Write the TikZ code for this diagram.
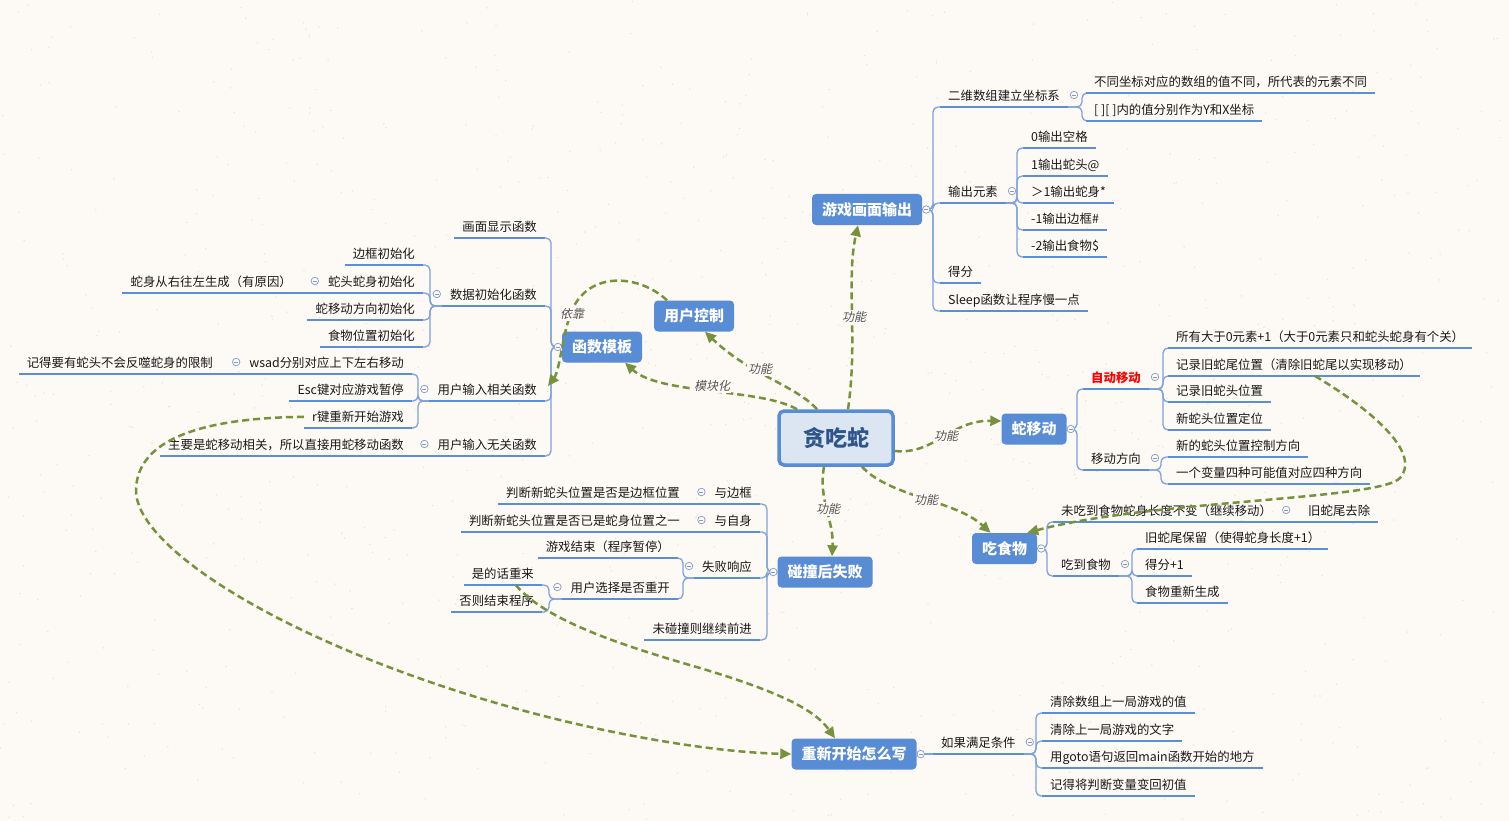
\documentclass[tikz,border=0pt]{standalone}
\usepackage{fontspec}
\setmainfont{Noto Sans CJK SC}
\newfontfamily\slfont[FakeSlant=0.22]{Noto Sans CJK SC}
\usetikzlibrary{arrows.meta}
\definecolor{bg}{RGB}{253,249,245}
\definecolor{speck}{RGB}{246,218,206}
\definecolor{tblue}{RGB}{88,140,212}
\definecolor{ulc}{RGB}{90,142,214}
\definecolor{trkc}{RGB}{125,162,220}
\definecolor{cfill}{RGB}{220,230,243}
\definecolor{ctext}{RGB}{46,84,140}
\definecolor{relc}{RGB}{118,146,60}
\definecolor{lblc}{RGB}{85,85,85}
\definecolor{ccol}{RGB}{130,155,198}
\definecolor{txt}{RGB}{25,25,25}
\newcommand\lfnt{\fontsize{12.4pt}{14pt}\selectfont}
\newcommand\tfnt{\fontsize{15pt}{18pt}\selectfont\bfseries}
\newcommand\cfnt{\fontsize{22pt}{26pt}\selectfont\bfseries}
\newcommand\rfnt{\slfont\fontsize{12pt}{14pt}\selectfont}
\begin{document}
\begin{tikzpicture}[x=1pt,y=-1pt,
  leafR/.style={anchor=south west, inner xsep=8pt, inner ysep=5pt, text height=10.7pt, text depth=1.3pt, font=\lfnt, text=txt},
  leafL/.style={anchor=south east, inner xsep=8pt, inner ysep=5pt, text height=10.7pt, text depth=1.3pt, font=\lfnt, text=txt},
  topic/.style={fill=tblue, rounded corners=4pt, text=white, font=\tfnt, minimum height=31pt, inner xsep=10pt, inner ysep=0pt, text height=12.9pt, text depth=1.5pt},
  centre/.style={fill=cfill, draw=tblue, line width=3.5pt, rounded corners=5pt, text=ctext, font=\cfnt, minimum width=114pt, minimum height=54pt, text height=19pt, text depth=2.2pt},
  ul/.style={draw=ulc, line width=2pt},
  trk/.style={draw=trkc, line width=1.3pt, rounded corners=5pt},
  cc/.style={circle, draw=ccol, fill=bg, minimum size=7.5pt, inner sep=0pt, line width=0.7pt,
    path picture={\draw[ccol, line width=0.7pt] ([xshift=-2pt]path picture bounding box.center) -- ([xshift=2pt]path picture bounding box.center);}},
  rel/.style={draw=relc, line width=2.5pt, dash pattern=on 7pt off 4pt, -{Triangle[length=11pt,width=10pt]}},
  lbl/.style={fill=bg, inner sep=1pt, font=\rfnt, text=lblc}
]
% background
\fill[bg] (0,0) rectangle (1509,821);
\useasboundingbox (0,0) rectangle (1509,821);
\pgfmathsetseed{11}
\foreach \i in {1,...,900} {
  \fill[speck] ({rnd*1509},{rnd*821}) circle (0.75pt);
}

% main topics
\node[centre] (ct) at (836,438) {贪吃蛇};
\node[topic] (gm) at (867,209.5) {游戏画面输出};
\node[topic] (uc) at (694,316) {用户控制};
\node[topic] (hm) at (602,347) {函数模板};
\node[topic] (sm) at (1034,429) {蛇移动};
\node[topic] (cs) at (1004.5,548.5) {吃食物};
\node[topic] (pz) at (825,572) {碰撞后失败};
\node[topic] (rs) at (854,754) {重新开始怎么写};

% right side leaves
\node[leafR] (g1) at (940,107) {二维数组建立坐标系};
\node[leafR] (g11) at (1086,93) {不同坐标对应的数组的值不同，所代表的元素不同};
\node[leafR] (g12) at (1086,121) {[ ][ ]内的值分别作为Y和X坐标};
\node[leafR] (g2) at (940,203) {输出元素};
\node[leafR] (g21) at (1023,148) {0输出空格};
\node[leafR] (g22) at (1023,176) {1输出蛇头@};
\node[leafR] (g23) at (1023,203) {＞1输出蛇身*};
\node[leafR] (g24) at (1023,230) {-1输出边框\#};
\node[leafR] (g25) at (1023,257) {-2输出食物\$};
\node[leafR] (g3) at (940,283) {得分};
\node[leafR] (g4) at (940,311) {Sleep函数让程序慢一点};

\node[leafR, text=red, font=\lfnt\bfseries] (s1) at (1083,389) {自动移动};
\node[leafR] (s11) at (1168,348) {所有大于0元素+1（大于0元素只和蛇头蛇身有个关）};
\node[leafR] (s12) at (1168,376) {记录旧蛇尾位置（清除旧蛇尾以实现移动）};
\node[leafR] (s13) at (1168,402) {记录旧蛇头位置};
\node[leafR] (s14) at (1168,430) {新蛇头位置定位};
\node[leafR] (s2) at (1083,470) {移动方向};
\node[leafR] (s21) at (1168,457) {新的蛇头位置控制方向};
\node[leafR] (s22) at (1168,484) {一个变量四种可能值对应四种方向};

\node[leafR] (c1) at (1053,522) {未吃到食物蛇身长度不变（继续移动）};
\node[leafR] (c11) at (1300,522) {旧蛇尾去除};
\node[leafR] (c2) at (1053,576) {吃到食物};
\node[leafR] (c21) at (1137,549) {旧蛇尾保留（使得蛇身长度+1）};
\node[leafR] (c22) at (1137,576) {得分+1};
\node[leafR] (c23) at (1137,603) {食物重新生成};

\node[leafR] (r1) at (933,754) {如果满足条件};
\node[leafR] (r11) at (1042,713) {清除数组上一局游戏的值};
\node[leafR] (r12) at (1042,741) {清除上一局游戏的文字};
\node[leafR] (r13) at (1042,768) {用goto语句返回main函数开始的地方};
\node[leafR] (r14) at (1042,796) {记得将判断变量变回初值};

% left side leaves
\node[leafL] (p1) at (760,504) {与边框};
\node[leafL] (p11) at (688,504) {判断新蛇头位置是否是边框位置};
\node[leafL] (p2) at (760,532) {与自身};
\node[leafL] (p21) at (688,532) {判断新蛇头位置是否已是蛇身位置之一};
\node[leafL] (p3) at (760,578) {失败响应};
\node[leafL] (p31) at (678,558) {游戏结束（程序暂停）};
\node[leafL] (p32) at (678,599) {用户选择是否重开};
\node[leafL] (p321) at (542,585) {是的话重来};
\node[leafL] (p322) at (542,612) {否则结束程序};
\node[leafL] (p4) at (760,640) {未碰撞则继续前进};

\node[leafL] (h1) at (545,238) {画面显示函数};
\node[leafL] (h2) at (545,306) {数据初始化函数};
\node[leafL] (h21) at (423,265) {边框初始化};
\node[leafL] (h22) at (423,293) {蛇头蛇身初始化};
\node[leafL] (h221) at (300,293) {蛇身从右往左生成（有原因）};
\node[leafL] (h23) at (423,320) {蛇移动方向初始化};
\node[leafL] (h24) at (423,347) {食物位置初始化};
\node[leafL] (h3) at (545,401) {用户输入相关函数};
\node[leafL] (h31) at (412,374) {wsad分别对应上下左右移动};
\node[leafL] (h311) at (221,374) {记得要有蛇头不会反噬蛇身的限制};
\node[leafL] (h32) at (412,401) {Esc键对应游戏暂停};
\node[leafL] (h33) at (412,428) {r键重新开始游戏};
\node[leafL] (h4) at (545,456) {用户输入无关函数};
\node[leafL] (h41) at (412,456) {主要是蛇移动相关，所以直接用蛇移动函数};

% branch connectors, right side
\foreach \a/\c/\s in {gm.east/g1/7pt, gm.east/g2/7pt, gm.east/g3/7pt, gm.east/g4/7pt,
  g1.south east/g11/4pt, g1.south east/g12/4pt,
  g2.south east/g21/6pt, g2.south east/g22/6pt, g2.south east/g23/6pt, g2.south east/g24/6pt, g2.south east/g25/6pt,
  sm.east/s1/6pt, sm.east/s2/6pt,
  s1.south east/s11/5pt, s1.south east/s12/5pt, s1.south east/s13/5pt, s1.south east/s14/5pt,
  s2.south east/s21/7pt, s2.south east/s22/7pt,
  cs.east/c1/6pt, cs.east/c2/6pt,
  c2.south east/c21/5pt, c2.south east/c22/5pt, c2.south east/c23/5pt,
  r1.south east/r11/6pt, r1.south east/r12/6pt, r1.south east/r13/6pt, r1.south east/r14/6pt}
  \draw[trk] (\a) -| ([xshift=-\s]\c.south west) -- (\c.south west);
% branch connectors, left side
\foreach \a/\c/\s in {pz.west/p1/7pt, pz.west/p2/7pt, pz.west/p3/7pt, pz.west/p4/7pt,
  p3.south west/p31/5pt, p3.south west/p32/5pt,
  p32.south west/p321/7pt, p32.south west/p322/7pt,
  hm.west/h1/6pt, hm.west/h2/6pt, hm.west/h3/6pt, hm.west/h4/6pt,
  h2.south west/h21/7pt, h2.south west/h22/7pt, h2.south west/h23/7pt, h2.south west/h24/7pt,
  h3.south west/h31/6pt, h3.south west/h32/6pt, h3.south west/h33/6pt}
  \draw[trk] (\a) -| ([xshift=\s]\c.south east) -- (\c.south east);
% straight single-child connectors
\draw[trk] (rs.east) -- (r1.south west);
\draw[ul] (c1.south east) -- (c11.south west);
\foreach \p/\c in {p1/p11, p2/p21, h22/h221, h31/h311, h4/h41}
  \draw[ul] (\p.south west) -- (\c.south east);

% underlines
\foreach \n in {g1,g11,g12,g2,g21,g22,g23,g24,g25,g3,g4,s1,s11,s12,s13,s14,s2,s21,s22,
  c1,c11,c2,c21,c22,c23,r1,r11,r12,r13,r14,p1,p11,p2,p21,p3,p31,p32,p321,p322,p4,
  h1,h2,h21,h22,h221,h23,h24,h3,h31,h311,h32,h33,h4,h41}
  \draw[ul] (\n.south west) -- (\n.south east);

% collapse circles
\foreach \n in {gm,sm,cs,rs}
  \node[cc] (cc-\n) at ([xshift=4pt]\n.east) {};
\foreach \n in {pz,hm}
  \node[cc] (cc-\n) at ([xshift=-4pt]\n.west) {};
\foreach \n in {g1,g2,s1,s2,c1,c2,r1}
  \node[cc] (cc-\n) at ([xshift=6pt,yshift=12pt]\n.south east) {};
\foreach \n in {p1,p2,p3,p32,h2,h22,h3,h31,h4}
  \node[cc] (cc-\n) at ([xshift=-5pt,yshift=12pt]\n.south west) {};

% relationship arrows
\draw[rel] ([xshift=12pt]ct.north) .. controls (858,340) and (846,280) .. ([xshift=-9pt]gm.south);
\draw[rel] ([xshift=-19pt]ct.north) .. controls (795,385) and (750,375) .. ([xshift=11pt]uc.south);
\draw[rel] ([xshift=-39pt]ct.north) .. controls (760,388) and (660,395) .. ([xshift=23pt]hm.south);
\draw[rel] ([xshift=-27pt]uc.north) .. controls (640,275) and (590,270) .. (572,310)
  .. controls (562,335) and (560,370) .. ([xshift=3pt,yshift=15pt]h3.south east);
\draw[rel] (h33.west) .. controls (200,418) and (137,440) .. (136,490)
  .. controls (135,540) and (250,620) .. (430,682)
  .. controls (560,727) and (700,752) .. (rs.west);
\draw[rel] ([xshift=13pt]p321.south) .. controls (545,620) and (620,645) .. (700,668)
  .. controls (780,692) and (815,710) .. ([xshift=-19pt]rs.north);
\draw[rel] ([yshift=-13pt]ct.east) .. controls (935,455) and (950,420) .. ([yshift=8pt]sm.west);
\draw[rel] ([xshift=26pt]ct.south) .. controls (890,497) and (955,500) .. ([xshift=-14pt]cs.north);
\draw[rel] ([xshift=-12pt]ct.south) .. controls (818,500) and (834,520) .. ([xshift=7pt]pz.north);
\draw[rel] ([xshift=147pt]s12.south west) .. controls (1380,415) and (1420,455) .. (1400,478)
  .. controls (1380,500) and (1150,500) .. ([xshift=-10pt]cs.north east);

% relationship labels
\node[lbl] (l1) at (854,317) {功能};
\node[lbl] (l2) at (760,369) {功能};
\node[lbl] (l3) at (712,386) {模块化};
\node[lbl] (l4) at (572,314) {依靠};
\node[lbl] (l7) at (946,436) {功能};
\node[lbl] (l8) at (926,500) {功能};
\node[lbl] (l9) at (828,509) {功能};
\end{tikzpicture}
\end{document}
